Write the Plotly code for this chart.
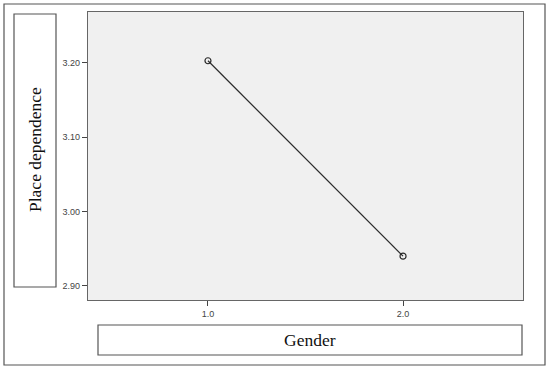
import plotly.graph_objects as go

# Data
gender = [1.0, 2.0]
place_dependence = [3.203, 2.940]
y_ticks = [2.90, 3.00, 3.10, 3.20]
x_ticks = [1.0, 2.0]

W, H = 550, 371
L, R, T, B = 88, 523, 12, 300  # plot area in pixels


def px(x):
    return (x - L) / (R - L)


def py(y):
    return (B - y) / (B - T)


fig = go.Figure()
fig.add_trace(go.Scatter(
    x=gender, y=place_dependence,
    mode="lines+markers",
    line=dict(color="#2a2a2a", width=1.2),
    marker=dict(symbol="circle-open", size=6, color="#2a2a2a", line=dict(width=1.2)),
    showlegend=False,
))

box_line = dict(color="#555555", width=1.2)
shapes = [
    # outer frame
    dict(type="rect", xref="paper", yref="paper", x0=px(4), x1=px(545), y0=py(365), y1=py(4),
         line=box_line, layer="below"),
    # y title box
    dict(type="rect", xref="paper", yref="paper", x0=px(14), x1=px(56), y0=py(287), y1=py(14),
         line=box_line),
    # x title box
    dict(type="rect", xref="paper", yref="paper", x0=px(98), x1=px(522), y0=py(355), y1=py(325),
         line=box_line),
]

title_font = dict(family="Liberation Serif", size=17.5, color="#111")
annotations = [
    dict(text="Place dependence", xref="paper", yref="paper", x=px(35), y=py(150),
         xanchor="center", yanchor="middle", textangle=-90, showarrow=False, font=title_font),
    dict(text="Gender", xref="paper", yref="paper", x=px(310), y=py(340),
         xanchor="center", yanchor="middle", showarrow=False, font=title_font),
]

fig.update_layout(
    width=W, height=H,
    margin=dict(l=L, r=W - R, t=T, b=H - B),
    paper_bgcolor="white",
    plot_bgcolor="#f0f0f0",
    shapes=shapes,
    annotations=annotations,
    xaxis=dict(range=[0.385, 2.615], tickvals=x_ticks, ticktext=[f"{v:.1f}" for v in x_ticks],
               showgrid=False, zeroline=False, showline=True, mirror=True,
               linecolor="#666", linewidth=1.2, ticks="outside", ticklen=5, tickcolor="#444",
               tickfont=dict(family="Arial", size=9, color="#444")),
    yaxis=dict(range=[2.881, 3.2686], tickvals=y_ticks, ticktext=[f"{v:.2f}" for v in y_ticks],
               showgrid=False, zeroline=False, showline=True, mirror=True,
               linecolor="#666", linewidth=1.2, ticks="outside", ticklen=5, tickcolor="#444",
               tickfont=dict(family="Arial", size=9, color="#444")),
)

fig.write_html("out.html", config={"displayModeBar": False},
               post_script="document.body.style.margin='0';")
